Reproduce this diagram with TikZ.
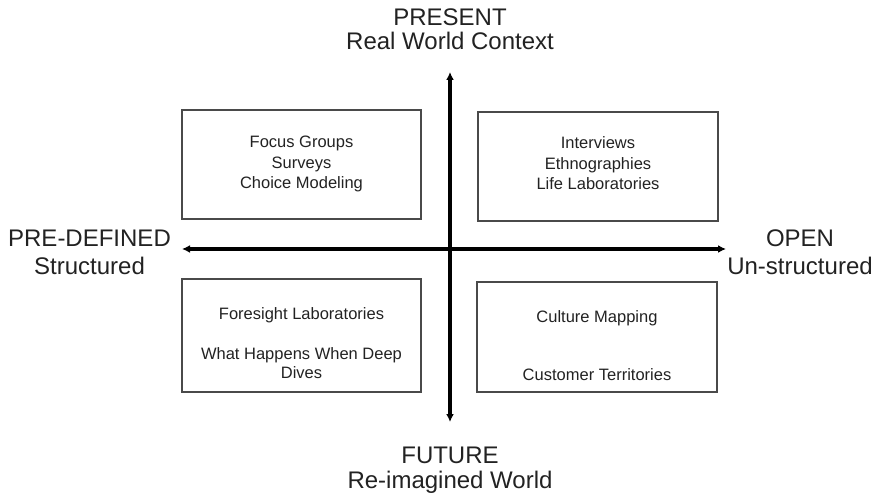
\documentclass[tikz,border=0pt]{standalone}
\usepackage{fontspec}
\setmainfont{Liberation Sans}
\usetikzlibrary{arrows.meta}
\definecolor{boxgray}{HTML}{4A4A4A}
\definecolor{ink}{HTML}{222222}
\begin{document}
\begin{tikzpicture}[x=1pt,y=-1pt,
  axis/.style={line width=3.2pt,
    {Latex[length=8pt,width=8pt]}-{Latex[length=8pt,width=8pt]}},
  quad/.style={draw=boxgray, line width=1.3pt, inner sep=0pt},
  method/.style={text=ink, align=center, inner sep=0pt, anchor=base,
    font=\fontsize{16.5}{20.5}\selectfont},
  pole/.style={text=ink, align=center, inner sep=0pt, anchor=base,
    font=\fontsize{24}{#1}\selectfont}]
  \useasboundingbox (0,0) rectangle (880,502);

  % quadrant boxes
  \node[quad, minimum width=239pt, minimum height=109pt] (tl) at (301.5,164.5) {};
  \node[quad, minimum width=240pt, minimum height=109pt] (tr) at (598,166.5) {};
  \node[quad, minimum width=239pt, minimum height=113pt] (bl) at (301.5,335.5) {};
  \node[quad, minimum width=240pt, minimum height=110pt] (br) at (597,337) {};

  % methods in each quadrant (anchored at the last line's baseline)
  \node[method] (tltext) at (301.5,189) {Focus Groups\\Surveys\\Choice Modeling};
  \node[method] (trtext) at (598,190) {Interviews\\Ethnographies\\Life Laboratories};
  \node[method] (bltext) at (301.5,378) {Foresight Laboratories\\[19.5pt]What Happens When Deep\\[-1.5pt]Dives};
  \node[method] (brtext) at (597,380) {Culture Mapping\\[37.5pt]Customer Territories};

  % axes
  \coordinate (ytop) at (450,72);
  \coordinate (ybot) at (450,422);
  \coordinate (xleft) at (182,249);
  \coordinate (xright) at (726,249);
  \draw[axis] (ytop) -- (ybot);
  \draw[axis] (xleft) -- (xright);

  % pole labels
  \node[pole=24] (present) at (450,50) {PRESENT\\Real World Context};
  \node[pole=25] (future) at (450,488) {FUTURE\\Re-imagined World};
  \node[pole=28] (predef) at (89.5,275) {PRE-DEFINED\\Structured};
  \node[pole=28] (open) at (800,275) {OPEN\\Un-structured};
\end{tikzpicture}
\end{document}
